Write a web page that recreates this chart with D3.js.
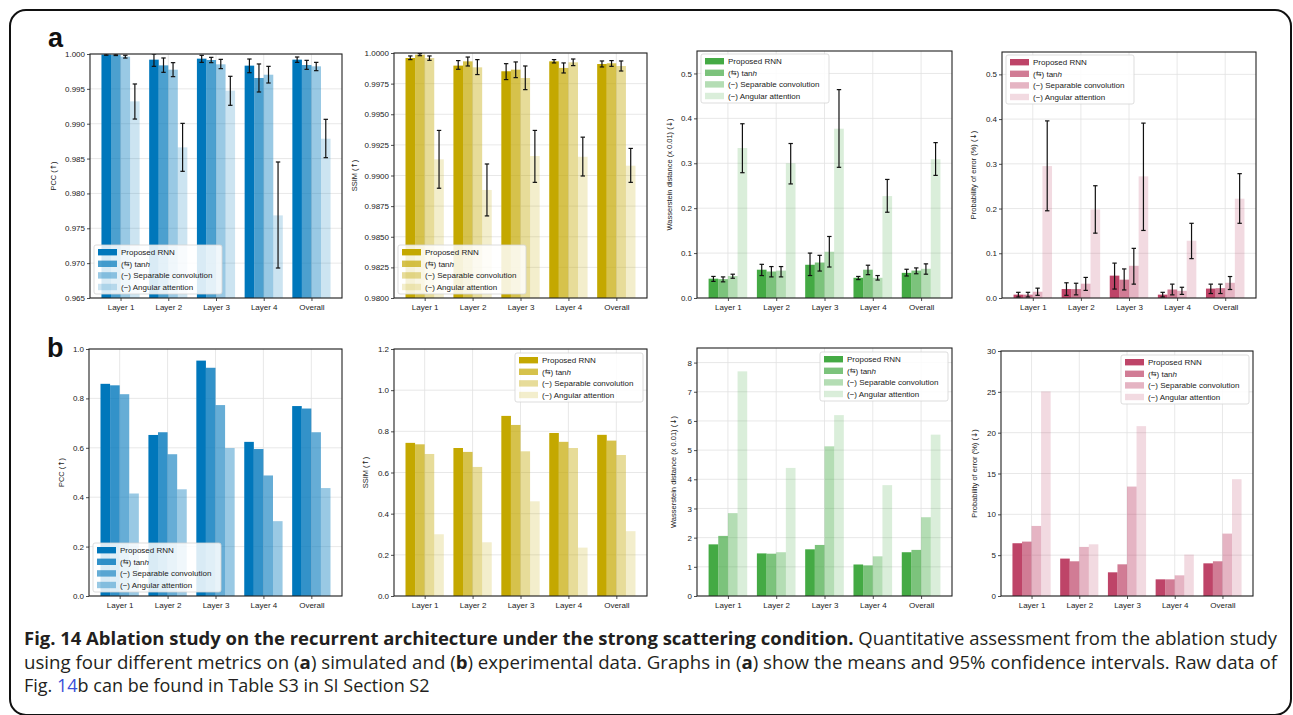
<!DOCTYPE html>
<html>
<head>
<meta charset="utf-8">
<script src="https://cdn.jsdelivr.net/npm/d3@7"></script>
<style>
  html, body { margin: 0; padding: 0; background: #fff; }
  svg { display: block; }
  .tick text { font-family: "Liberation Sans", Arial, sans-serif; fill: #222; }
</style>
</head>
<body>
<svg id="fig" width="1293" height="715"></svg>
<script>
// ---- Shared labels ----
const categories = ["Layer 1", "Layer 2", "Layer 3", "Layer 4", "Overall"];
const variantPrefix = ["", "(\u21c6) ", "(\u2212) ", "(\u2212) "];
const variantName = ["Proposed RNN", "tan", "Separable convolution", "Angular attention"];

// ---- (a) Simulated data: means and 95% CI bounds, one row per variant ----
const simPccMean = [
  [0.99992, 0.99919, 0.99933, 0.99833, 0.99919],
  [0.99988, 0.99837, 0.99914, 0.99656, 0.99842],
  [0.99962, 0.99775, 0.99852, 0.99703, 0.99823],
  [0.99321, 0.98661, 0.99474, 0.97685, 0.98785]
];
const simPccLow = [
  [0.99982, 0.99823, 0.99880, 0.99732, 0.99880],
  [0.99978, 0.99737, 0.99876, 0.99455, 0.99780],
  [0.99942, 0.99675, 0.99790, 0.99584, 0.99761],
  [0.99067, 0.98317, 0.99264, 0.96930, 0.98513]
];
const simPccHigh = [
  [1.00002, 1.00000, 0.99981, 0.99928, 0.99957],
  [0.99998, 0.99943, 0.99952, 0.99857, 0.99909],
  [0.99982, 0.99876, 0.99923, 0.99823, 0.99880],
  [0.99570, 0.99005, 0.99680, 0.98451, 0.99063]
];

const simSsimMean = [
  [0.99959, 0.99897, 0.99851, 0.99932, 0.99910],
  [0.99986, 0.99932, 0.99864, 0.99878, 0.99916],
  [0.99959, 0.99883, 0.99796, 0.99924, 0.99894],
  [0.99132, 0.98882, 0.99159, 0.99153, 0.99080]
];
const simSsimLow = [
  [0.99946, 0.99867, 0.99783, 0.99919, 0.99886],
  [0.99978, 0.99894, 0.99799, 0.99837, 0.99891],
  [0.99940, 0.99824, 0.99701, 0.99897, 0.99853],
  [0.98896, 0.98670, 0.98944, 0.98996, 0.98944]
];
const simSsimHigh = [
  [0.99976, 0.99938, 0.99913, 0.99946, 0.99935],
  [0.99995, 0.99967, 0.99927, 0.99919, 0.99938],
  [0.99976, 0.99946, 0.99894, 0.99951, 0.99935],
  [0.99368, 0.99094, 0.99368, 0.99313, 0.99221]
];

const simWassMean = [
  [0.043, 0.063, 0.074, 0.045, 0.056],
  [0.042, 0.059, 0.079, 0.063, 0.061],
  [0.049, 0.061, 0.103, 0.045, 0.065],
  [0.334, 0.300, 0.377, 0.227, 0.309]
];
const simWassLow = [
  [0.037, 0.050, 0.050, 0.041, 0.049],
  [0.036, 0.047, 0.060, 0.052, 0.054],
  [0.044, 0.047, 0.069, 0.040, 0.053],
  [0.279, 0.254, 0.291, 0.191, 0.273]
];
const simWassHigh = [
  [0.048, 0.075, 0.100, 0.048, 0.064],
  [0.047, 0.070, 0.095, 0.073, 0.067],
  [0.053, 0.070, 0.137, 0.050, 0.076],
  [0.388, 0.344, 0.464, 0.264, 0.346]
];

const simErrMean = [
  [0.0075, 0.020, 0.050, 0.0075, 0.021],
  [0.0075, 0.020, 0.041, 0.019, 0.022],
  [0.014, 0.032, 0.072, 0.016, 0.034],
  [0.295, 0.198, 0.272, 0.128, 0.222]
];
const simErrLow = [
  [0.0022, 0.006, 0.020, 0.0022, 0.010],
  [0.0022, 0.007, 0.018, 0.007, 0.010],
  [0.006, 0.017, 0.031, 0.008, 0.019],
  [0.195, 0.145, 0.151, 0.088, 0.167]
];
const simErrHigh = [
  [0.0127, 0.034, 0.078, 0.0127, 0.031],
  [0.0127, 0.033, 0.065, 0.031, 0.031],
  [0.022, 0.046, 0.111, 0.024, 0.048],
  [0.396, 0.251, 0.391, 0.167, 0.278]
];

// ---- (b) Experimental data ----
const expPcc = [
  [0.859, 0.652, 0.953, 0.624, 0.769],
  [0.853, 0.663, 0.924, 0.595, 0.759],
  [0.817, 0.574, 0.773, 0.488, 0.663],
  [0.415, 0.432, 0.599, 0.303, 0.437]
];
const expSsim = [
  [0.744, 0.719, 0.875, 0.792, 0.783],
  [0.737, 0.700, 0.831, 0.749, 0.755],
  [0.690, 0.627, 0.703, 0.719, 0.685],
  [0.300, 0.261, 0.460, 0.235, 0.315]
];
const expWass = [
  [1.77, 1.46, 1.60, 1.08, 1.50],
  [2.06, 1.45, 1.75, 1.05, 1.58],
  [2.84, 1.50, 5.13, 1.36, 2.70],
  [7.70, 4.39, 6.20, 3.80, 5.53]
];
const expErr = [
  [6.46, 4.58, 2.90, 2.04, 4.00],
  [6.66, 4.25, 3.88, 2.04, 4.25],
  [8.58, 6.01, 13.40, 2.53, 7.64],
  [25.05, 6.33, 20.80, 5.07, 14.30]
];

// ---- Axis ticks ----
const ticksSimPcc = [0.965, 0.970, 0.975, 0.980, 0.985, 0.990, 0.995, 1.000];
const ticksSimSsim = [0.9800, 0.9825, 0.9850, 0.9875, 0.9900, 0.9925, 0.9950, 0.9975, 1.0000];
const ticksSimSmall = [0.0, 0.1, 0.2, 0.3, 0.4, 0.5];
const ticksExpPcc = [0.0, 0.2, 0.4, 0.6, 0.8, 1.0];
const ticksExpSsim = [0.0, 0.2, 0.4, 0.6, 0.8, 1.0, 1.2];
const ticksExpWass = [0, 1, 2, 3, 4, 5, 6, 7, 8];
const ticksExpErr = [0, 5, 10, 15, 20, 25, 30];

const blue = "#0077bb", gold = "#c4a800", green = "#44aa44", rose = "#be4468";
const alphaSoft = [1, 0.7, 0.4, 0.2];
const alphaDeep = [1, 0.8, 0.6, 0.4];

const svg = d3.select("#fig");
const FONT = '"Liberation Sans", Arial, Helvetica, sans-serif';
const SYM = '"DejaVu Sans", sans-serif';
let clipId = 0;

function drawPanel(p) {
  const x = d3.scaleLinear().domain([-0.64, 4.64]).range([p.x0, p.x1]);
  const y = d3.scaleLinear().domain(p.domain).range([p.y1, p.y0]);
  const g = svg.append("g");
  const id = "clip" + (clipId++);
  g.append("clipPath").attr("id", id).append("rect")
    .attr("x", p.x0).attr("y", p.y0).attr("width", p.x1 - p.x0).attr("height", p.y1 - p.y0);

  // grid
  const grid = g.append("g").attr("stroke", "#e2e2e2").attr("stroke-width", 0.8);
  p.ticks.forEach(t => grid.append("line")
    .attr("x1", p.x0).attr("x2", p.x1).attr("y1", y(t)).attr("y2", y(t)));
  categories.forEach((c, i) => grid.append("line")
    .attr("x1", x(i)).attr("x2", x(i)).attr("y1", p.y0).attr("y2", p.y1));

  // bars
  const bw = 0.2;
  const body = g.append("g").attr("clip-path", `url(#${id})`);
  p.means.forEach((row, j) => {
    body.append("g").selectAll("rect").data(row).join("rect")
      .attr("x", (d, i) => x(i + (j - 1.5) * bw - bw / 2))
      .attr("width", x(bw) - x(0))
      .attr("y", d => y(d))
      .attr("height", d => y(p.domain[0]) - y(d))
      .attr("fill", p.color)
      .attr("fill-opacity", p.alphas[j]);
  });

  // confidence intervals
  if (p.low) {
    const eb = body.append("g").attr("stroke", "#111").attr("stroke-width", 1.2);
    p.low.forEach((row, j) => {
      row.forEach((lo, i) => {
        const hi = p.high[j][i];
        const cx = x(i + (j - 1.5) * bw);
        eb.append("line").attr("x1", cx).attr("x2", cx).attr("y1", y(lo)).attr("y2", y(hi));
        [lo, hi].forEach(v => eb.append("line")
          .attr("x1", cx - 2.2).attr("x2", cx + 2.2).attr("y1", y(v)).attr("y2", y(v)));
      });
    });
  }

  // axes
  const ya = g.append("g").attr("transform", `translate(${p.x0},0)`)
    .call(d3.axisLeft(y).tickValues(p.ticks).tickFormat(d3.format(p.fmt)).tickSize(3).tickPadding(2));
  const xa = g.append("g").attr("transform", `translate(0,${p.y1})`)
    .call(d3.axisBottom(x).tickValues([0, 1, 2, 3, 4]).tickFormat(i => categories[i]).tickSize(3).tickPadding(3));
  [ya, xa].forEach(a => {
    a.select(".domain").remove();
    a.selectAll(".tick line").attr("stroke", "#222").attr("stroke-width", 0.8);
    a.selectAll(".tick text").attr("font-size", 8).attr("font-family", FONT);
  });

  // frame
  g.append("rect").attr("x", p.x0).attr("y", p.y0)
    .attr("width", p.x1 - p.x0).attr("height", p.y1 - p.y0)
    .attr("fill", "none").attr("stroke", "#222").attr("stroke-width", 1.1);

  // y label: metric name plus direction arrow
  const yl = g.append("text")
    .attr("transform", `translate(${p.labelX},${(p.y0 + p.y1) / 2}) rotate(-90)`)
    .attr("text-anchor", "middle").attr("dominant-baseline", "central")
    .attr("font-family", FONT).attr("font-size", 7.5).attr("fill", "#222");
  yl.append("tspan").text(p.label + " (");
  yl.append("tspan").attr("font-family", SYM).text(p.up ? "\u2191" : "\u2193");
  yl.append("tspan").text(")");

  // legend
  const lw = 128, lh = 49;
  let lx, ly;
  if (p.legend === "ll") { lx = p.x0 + 4; ly = p.y1 - 4 - lh; }
  else if (p.legend === "ul") { lx = p.x0 + 4; ly = p.y0 + 3; }
  else { lx = p.x1 - 4 - lw; ly = p.y0 + 4; }
  const lg = g.append("g").attr("transform", `translate(${lx},${ly})`);
  lg.append("rect").attr("width", lw).attr("height", lh).attr("rx", 2)
    .attr("fill", "#fff").attr("fill-opacity", 0.85)
    .attr("stroke", "#d4d4d4").attr("stroke-width", 0.8);
  variantName.forEach((v, j) => {
    const cy = 7.2 + j * 11.6;
    lg.append("rect").attr("x", 4).attr("y", cy - 3.2).attr("width", 19).attr("height", 6.4)
      .attr("fill", p.color).attr("fill-opacity", p.alphas[j]);
    const t = lg.append("text").attr("x", 27).attr("y", cy)
      .attr("dominant-baseline", "central")
      .attr("font-family", FONT).attr("font-size", 8).attr("fill", "#222");
    if (j === 1) {
      t.append("tspan").text("(");
      t.append("tspan").attr("font-family", SYM).attr("font-size", 7).text("\u21c6");
      t.append("tspan").text(") " + v);
      t.append("tspan").attr("font-style", "italic").text("h");
    } else {
      t.append("tspan").text(variantPrefix[j] + v);
    }
  });
}

const panels = [
  { x0: 90, x1: 342, y0: 54, y1: 298, domain: [0.965, 1.0], ticks: ticksSimPcc, fmt: ".3f",
    label: "PCC", up: true, labelX: 53, means: simPccMean, low: simPccLow, high: simPccHigh,
    color: blue, alphas: alphaSoft, legend: "ll" },
  { x0: 394, x1: 647, y0: 53, y1: 298, domain: [0.98, 1.0], ticks: ticksSimSsim, fmt: ".4f",
    label: "SSIM", up: true, labelX: 354, means: simSsimMean, low: simSsimLow, high: simSsimHigh,
    color: gold, alphas: alphaSoft, legend: "ll" },
  { x0: 697, x1: 952, y0: 51, y1: 298, domain: [0, 0.55], ticks: ticksSimSmall, fmt: ".1f",
    label: "Wasserstein distance (x 0.01)", up: false, labelX: 669, means: simWassMean, low: simWassLow, high: simWassHigh,
    color: green, alphas: alphaSoft, legend: "ul" },
  { x0: 1002, x1: 1256, y0: 52, y1: 298, domain: [0, 0.55], ticks: ticksSimSmall, fmt: ".1f",
    label: "Probability of error (%)", up: false, labelX: 973, means: simErrMean, low: simErrLow, high: simErrHigh,
    color: rose, alphas: alphaSoft, legend: "ul" },
  { x0: 89, x1: 342, y0: 349, y1: 596, domain: [0, 1.0], ticks: ticksExpPcc, fmt: ".1f",
    label: "PCC", up: true, labelX: 61, means: expPcc, color: blue, alphas: alphaDeep, legend: "ll" },
  { x0: 394, x1: 647, y0: 349, y1: 596, domain: [0, 1.2], ticks: ticksExpSsim, fmt: ".1f",
    label: "SSIM", up: true, labelX: 365, means: expSsim, color: gold, alphas: alphaSoft, legend: "ur" },
  { x0: 697, x1: 952, y0: 348, y1: 596, domain: [0, 8.5], ticks: ticksExpWass, fmt: "d",
    label: "Wasserstein distance (x 0.01)", up: false, labelX: 673, means: expWass, color: green, alphas: alphaSoft, legend: "ur" },
  { x0: 1001, x1: 1253, y0: 351, y1: 596, domain: [0, 30], ticks: ticksExpErr, fmt: "d",
    label: "Probability of error (%)", up: false, labelX: 974, means: expErr, color: rose, alphas: alphaSoft, legend: "ur" }
];
panels.forEach(drawPanel);

// panel letters
svg.append("text").attr("x", 48).attr("y", 47).attr("font-family", FONT)
  .attr("font-weight", "bold").attr("font-size", 27).attr("fill", "#111").text("a");
svg.append("text").attr("x", 47).attr("y", 357).attr("font-family", FONT)
  .attr("font-weight", "bold").attr("font-size", 27).attr("fill", "#111").text("b");

// caption
const CAP = '"Open Sans", "Noto Sans", sans-serif';
const CAP_SIZE = 18;
const cap1 = svg.append("text").attr("x", 24).attr("y", 645).attr("font-family", CAP)
  .attr("font-size", CAP_SIZE).attr("fill", "#231f20").attr("textLength", 1253).attr("lengthAdjust", "spacingAndGlyphs");
cap1.append("tspan").attr("font-weight", "bold")
  .text("Fig. 14 Ablation study on the recurrent architecture under the strong scattering condition.");
cap1.append("tspan").text(" Quantitative assessment from the ablation study");

const cap2 = svg.append("text").attr("x", 24).attr("y", 669).attr("font-family", CAP)
  .attr("font-size", CAP_SIZE).attr("fill", "#231f20").attr("textLength", 1253).attr("lengthAdjust", "spacingAndGlyphs");
[["using four different metrics on (", false], ["a", true], [") simulated and (", false], ["b", true],
 [") experimental data. Graphs in (", false], ["a", true],
 [") show the means and 95% confidence intervals. Raw data of", false]]
  .forEach(([s, b]) => cap2.append("tspan").attr("font-weight", b ? "bold" : null).text(s));

const cap3 = svg.append("text").attr("x", 24).attr("y", 692).attr("font-family", CAP)
  .attr("font-size", CAP_SIZE).attr("fill", "#231f20");
cap3.append("tspan").text("Fig. ");
cap3.append("tspan").attr("fill", "#3b4fd8").text("14");
cap3.append("tspan").text("b can be found in Table S3 in SI Section S2");

// outer frame
svg.append("rect").attr("x", 10).attr("y", 10).attr("width", 1281).attr("height", 705)
  .attr("rx", 16).attr("fill", "none").attr("stroke", "#111").attr("stroke-width", 2);
</script>
</body>
</html>
